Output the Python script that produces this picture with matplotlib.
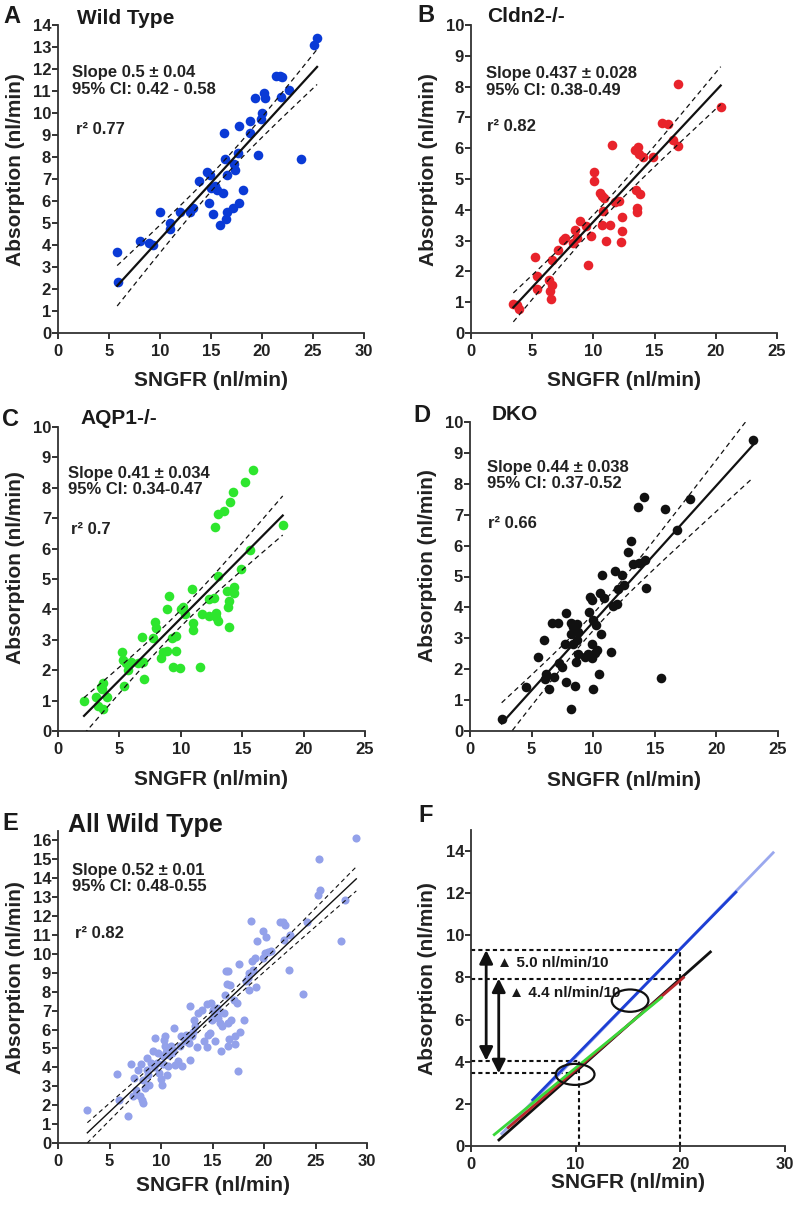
"""
Absorption vs SNGFR for wild type, Cldn2-/-, AQP1-/- and DKO tubules,
with regression lines and 95% confidence bands, plus a panel comparing fits.
"""

import numpy as np
import matplotlib
matplotlib.use("Agg")
import matplotlib.pyplot as plt
from matplotlib.patches import Ellipse

plt.rcParams['font.family'] = ['Liberation Sans', 'DejaVu Sans']
plt.rcParams['font.weight'] = 'bold'
plt.rcParams['axes.labelweight'] = 'bold'

W, H = 796, 1205  # figure size in pixels

# panel A - wild type
wt_x = [5.8, 5.9, 8.0, 8.9, 9.3, 10.0, 11.0, 11.0, 12.0, 12.9,
        13.2, 13.8, 14.6, 14.9, 14.8, 15.2, 15.0, 15.4, 15.6, 16.2,
        15.9, 16.5, 16.6, 16.3, 16.4, 16.6, 17.2, 17.7, 17.3, 17.4,
        17.6, 17.7, 18.1, 18.8, 18.8, 19.6, 19.9, 20.0, 19.3, 20.2,
        20.3, 21.4, 21.8, 22.0, 21.9, 22.6, 23.8, 25.1, 25.4]
wt_y = [3.7, 2.3, 4.2, 4.1, 4.0, 5.5, 5.0, 4.75, 5.5, 5.5,
        5.7, 6.9, 7.3, 7.2, 5.9, 5.4, 6.6, 6.7, 6.5, 6.35,
        4.9, 5.2, 5.5, 9.1, 7.9, 7.2, 5.7, 5.9, 7.7, 7.4,
        8.2, 9.4, 6.5, 9.65, 9.1, 8.1, 9.75, 10.0, 10.7, 10.9,
        10.7, 11.7, 11.7, 11.65, 10.75, 11.05, 7.9, 13.1, 13.4]

# panel B - Cldn2-/-
cldn_x = [3.46, 3.73, 3.92, 5.23, 5.42, 5.37, 6.38, 6.46, 6.59, 6.54,
          6.59, 7.14, 7.55, 7.68, 8.37, 8.5, 8.64, 8.91, 9.37, 9.54,
          9.81, 10.05, 10.05, 10.54, 10.74, 10.9, 10.82, 10.74, 11.04, 11.36,
          11.5, 11.77, 12.1, 12.32, 12.32, 12.23, 13.4, 13.68, 13.76, 14.09,
          13.49, 13.8, 13.54, 13.6, 14.9, 15.6, 16.1, 16.5, 16.9, 16.9,
          20.4]
cldn_y = [0.93, 0.91, 0.77, 2.48, 1.86, 1.42, 1.72, 1.37, 1.56, 1.12,
          2.37, 2.69, 3.02, 3.07, 2.92, 3.34, 3.08, 3.65, 3.49, 2.2,
          3.16, 5.22, 4.95, 4.54, 4.46, 4.39, 3.97, 3.51, 3.0, 3.52,
          6.12, 4.25, 4.28, 3.78, 3.32, 2.94, 5.95, 6.04, 5.8, 5.71,
          4.65, 4.52, 4.06, 3.94, 5.73, 6.82, 6.78, 6.28, 6.07, 8.07,
          7.34]

# panel C - AQP1-/-
aqp_x = [2.12, 3.09, 3.28, 3.47, 3.69, 3.56, 3.69, 4.02, 5.21, 5.32,
         5.54, 5.37, 5.67, 5.94, 6.54, 6.95, 7.0, 6.81, 7.71, 7.9,
         7.98, 8.36, 8.58, 8.85, 9.07, 8.9, 9.26, 9.61, 9.34, 9.61,
         9.94, 10.02, 10.15, 10.34, 10.89, 10.97, 11.0, 11.56, 11.7, 12.32,
         12.32, 12.7, 12.78, 13.0, 12.87, 12.9, 13.0, 13.06, 13.5, 13.74,
         13.87, 13.95, 13.95, 14.0, 14.28, 14.36, 14.36, 14.87, 15.23, 15.63,
         15.9, 18.3]
aqp_y = [1.0, 1.13, 0.82, 1.46, 1.59, 1.37, 0.71, 1.13, 2.59, 2.34,
         2.23, 1.48, 2.0, 2.28, 2.23, 2.26, 1.7, 3.1, 3.05, 3.6,
         3.4, 2.39, 2.61, 2.64, 4.44, 4.0, 3.05, 3.13, 2.12, 2.64,
         2.06, 4.0, 4.07, 3.85, 4.66, 3.54, 3.32, 2.12, 3.85, 3.78,
         4.33, 4.36, 6.7, 7.13, 3.76, 3.87, 3.63, 5.1, 7.24, 4.62,
         4.09, 3.41, 4.29, 7.54, 7.85, 4.73, 4.53, 5.32, 8.2, 5.95,
         8.59, 6.78]

# panel D - DKO
dko_x = [2.57, 4.55, 5.55, 6.0, 6.09, 6.14, 6.44, 6.63, 6.82, 7.17,
         7.25, 7.44, 7.71, 7.77, 7.79, 8.17, 8.17, 8.2, 8.33, 8.39,
         8.52, 8.58, 8.66, 8.71, 8.79, 8.79, 9.33, 9.55, 9.69, 9.74,
         9.88, 9.88, 9.96, 9.88, 10.01, 10.15, 10.2, 10.34, 10.5, 10.55,
         10.6, 10.74, 10.88, 11.42, 11.63, 11.77, 11.96, 12.04, 12.31, 12.5,
         12.85, 13.04, 13.2, 13.66, 13.74, 14.15, 14.2, 14.29, 15.5, 15.83,
         16.77, 17.86, 22.97]
dko_y = [0.38, 1.43, 2.4, 2.94, 1.67, 1.86, 1.35, 3.5, 1.76, 3.5,
         2.19, 2.08, 2.81, 3.83, 1.6, 0.7, 3.48, 3.14, 3.37, 2.81,
         1.45, 2.24, 3.46, 2.94, 2.49, 3.21, 2.4, 2.49, 3.86, 4.34,
         4.24, 2.83, 3.59, 2.35, 1.35, 2.51, 3.43, 2.62, 1.86, 4.45,
         3.14, 5.04, 4.32, 2.56, 4.04, 5.18, 4.11, 4.58, 5.04, 4.72,
         5.8, 6.15, 5.42, 7.25, 5.44, 7.58, 5.53, 4.64, 1.72, 7.18,
         6.5, 7.52, 9.41]

# panel E - all wild type
allwt_x = [2.85, 5.77, 5.93, 6.84, 7.09, 7.26, 7.39, 7.58, 7.81, 7.97,
           8.03, 8.13, 8.29, 8.29, 8.45, 8.62, 8.68, 8.78, 8.88, 9.0,
           9.2, 9.33, 9.43, 9.59, 9.75, 9.85, 9.98, 10.07, 10.17, 10.24,
           10.3, 10.4, 10.4, 10.5, 10.56, 10.66, 10.72, 10.82, 10.95, 11.05,
           11.21, 11.27, 11.37, 11.69, 11.86, 12.02, 11.99, 12.34, 12.44, 12.67,
           12.83, 12.83, 12.99, 13.15, 13.25, 13.31, 13.48, 13.64, 13.96, 14.19,
           14.45, 14.51, 14.61, 14.77, 14.84, 14.93, 15.0, 15.1, 15.26, 15.42,
           15.48, 15.58, 15.74, 15.81, 15.9, 16.07, 16.23, 16.33, 16.49, 16.39,
           16.55, 16.55, 16.72, 16.65, 16.78, 17.04, 17.14, 17.2, 17.36, 17.46,
           17.62, 17.69, 18.01, 18.27, 18.4, 18.5, 18.59, 18.72, 18.82, 18.98,
           19.14, 19.24, 19.31, 19.95, 19.89, 20.11, 20.18, 20.38, 20.67, 21.51,
           21.83, 21.96, 22.06, 22.38, 22.55, 23.78, 24.17, 25.24, 25.4, 25.3,
           27.47, 27.89, 28.96]
allwt_y = [1.76, 3.67, 2.29, 1.41, 4.2, 2.47, 3.44, 2.82, 3.88, 2.47,
           4.2, 2.26, 2.12, 3.35, 2.91, 4.5, 3.88, 3.62, 3.09, 4.23,
           4.85, 4.02, 5.56, 4.23, 4.76, 3.7, 3.4, 3.09, 4.2, 4.59,
           5.47, 5.11, 5.64, 4.8, 3.62, 4.06, 4.94, 4.67, 5.11, 4.76,
           4.94, 6.08, 4.14, 4.32, 5.15, 4.06, 5.68, 5.38, 5.73, 5.29,
           7.23, 4.41, 5.64, 5.86, 6.53, 6.17, 5.06, 6.88, 7.05, 5.38,
           7.35, 5.08, 5.73, 5.82, 7.41, 6.53, 7.05, 6.79, 5.38, 6.88,
           7.14, 6.61, 6.35, 4.85, 6.17, 6.88, 7.85, 9.08, 9.08, 8.43,
           6.35, 5.11, 8.38, 5.5, 6.53, 7.58, 5.64, 5.26, 7.41, 3.79,
           9.44, 5.86, 6.53, 8.55, 8.73, 8.11, 9.0, 11.76, 9.61, 9.17,
           9.79, 8.25, 10.67, 9.79, 11.2, 10.05, 10.88, 10.09, 10.18, 11.68,
           11.68, 10.76, 11.52, 9.14, 11.02, 7.9, 11.68, 13.14, 13.4, 15.03,
           10.67, 12.87, 16.14]

# regression statistics printed on each panel
stats_text = {
    'A': ("Slope 0.5 \u00b1 0.04\n95% CI: 0.42 - 0.58", "r\u00b2 0.77"),
    'B': ("Slope 0.437 \u00b1 0.028\n95% CI: 0.38-0.49", "r\u00b2 0.82"),
    'C': ("Slope 0.41 \u00b1 0.034\n95% CI: 0.34-0.47", "r\u00b2 0.7"),
    'D': ("Slope 0.44 \u00b1 0.038\n95% CI: 0.37-0.52", "r\u00b2 0.66"),
    'E': ("Slope 0.52 \u00b1 0.01\n95% CI: 0.48-0.55", "r\u00b2 0.82"),
}

# panel F reference levels (absorption at SNGFR 10 and 20)
f_sngfr = [10.3, 20.0]
f_wt_levels = [4.05, 9.3]
f_ko_levels = [3.45, 7.95]
f_labels = ["\u25b2 5.0 nl/min/10", "\u25b2 4.4 nl/min/10"]

fig = plt.figure(figsize=(W/100, H/100), dpi=100)


def add_panel(left, top, right, bottom):
    """add axes using pixel edges measured from the top left"""
    return fig.add_axes([left/W, 1-bottom/H, (right-left)/W, (bottom-top)/H])


def fit_line(x, y):
    """least squares line plus 95% confidence band of the mean"""
    x = np.asarray(x, dtype=float)
    y = np.asarray(y, dtype=float)
    n = len(x)
    slope, icpt = np.polyfit(x, y, 1)
    resid = y - (slope*x + icpt)
    s = np.sqrt(np.sum(resid**2)/(n-2))
    xs = np.linspace(x.min(), x.max(), 200)
    se = s*np.sqrt(1/n + (xs-x.mean())**2/np.sum((x-x.mean())**2))
    return xs, slope*xs + icpt, 2.0*se


def style(ax, xmax, xstep, ymax, ystep, ytop):
    ax.set_xlim(0, xmax)
    ax.set_ylim(0, ytop)
    ax.set_xticks(np.arange(0, xmax+0.01, xstep))
    ax.set_yticks(np.arange(0, ymax+0.01, ystep))
    for s in ['top', 'right']:
        ax.spines[s].set_visible(False)
    for s in ['left', 'bottom']:
        ax.spines[s].set_linewidth(1.3)
        ax.spines[s].set_color('#333333')
    ax.tick_params(direction='out', length=4, width=1.3, labelsize=12,
                   colors='#222222')
    ax.tick_params(axis='y', pad=1)
    ax.tick_params(axis='x', pad=4)
    ax.set_xlabel('SNGFR (nl/min)', fontsize=15, color='#222222')
    ax.set_ylabel('Absorption (nl/min)', fontsize=15, color='#222222')


def scatter_panel(ax, x, y, color, size, key, txt_pos, lw_fit=1.6, lw_ci=0.9):
    ax.scatter(x, y, s=size, color=color, zorder=3, clip_on=False,
               linewidths=0)
    xs, yf, ci = fit_line(x, y)
    ax.plot(xs, yf, color='#111111', lw=lw_fit, zorder=4)
    ax.plot(xs, yf+ci, color='#111111', lw=lw_ci, ls=(0, (4, 3)), zorder=4)
    ax.plot(xs, yf-ci, color='#111111', lw=lw_ci, ls=(0, (4, 3)), zorder=4)
    (sx, sy), (rx, ry) = txt_pos
    top, r2 = stats_text[key]
    ax.text(sx, sy, top, transform=ax.transAxes, fontsize=12, va='center',
            ha='left', linespacing=1.1, color='#222222')
    ax.text(rx, ry, r2, transform=ax.transAxes, fontsize=12, va='center',
            ha='left', color='#222222')


def label(x, y, txt, size):
    fig.text(x/W, 1-y/H, txt, fontsize=size, ha='left', va='center',
             color='#1a1a1a')


# A
axA = add_panel(58, 25, 364, 333)
style(axA, 30, 5, 14, 1, 14)
scatter_panel(axA, wt_x, wt_y, '#0a3ad6', 48, 'A',
              ((0.046, 0.818), (0.059, 0.66)))
axA.xaxis.set_label_coords(0.5, -0.123)
axA.yaxis.set_label_coords(-0.108, 0.532)

# B
axB = add_panel(471, 25, 777, 333)
style(axB, 25, 5, 10, 1, 10)
scatter_panel(axB, cldn_x, cldn_y, '#e8232b', 48, 'B',
              ((0.049, 0.815), (0.052, 0.669)))
axB.xaxis.set_label_coords(0.5, -0.123)
axB.yaxis.set_label_coords(-0.108, 0.532)

# C
axC = add_panel(58, 427, 365, 731)
style(axC, 25, 5, 10, 1, 10)
scatter_panel(axC, aqp_x, aqp_y, '#2ee62e', 48, 'C',
              ((0.033, 0.822), (0.042, 0.664)))
axC.xaxis.set_label_coords(0.5, -0.128)
axC.yaxis.set_label_coords(-0.107, 0.536)

# D
axD = add_panel(470, 422, 778, 731)
style(axD, 25, 5, 10, 1, 10)
scatter_panel(axD, dko_x, dko_y, '#111111', 48, 'D',
              ((0.055, 0.827), (0.058, 0.670)))
axD.xaxis.set_label_coords(0.5, -0.128)
axD.yaxis.set_label_coords(-0.107, 0.534)

# E
axE = add_panel(58, 831, 367, 1143)
style(axE, 30, 5, 16, 1, 16.5)
scatter_panel(axE, allwt_x, allwt_y, '#93a1ea', 34, 'E',
              ((0.045, 0.848), (0.055, 0.67)), lw_fit=1.0, lw_ci=0.8)
axE.xaxis.set_label_coords(0.5, -0.106)
axE.yaxis.set_label_coords(-0.107, 0.529)

# F - overlay of the fitted lines
axF = add_panel(471, 830, 785, 1146)
style(axF, 30, 10, 14, 2, 15)
groups = [(allwt_x, allwt_y, '#9aa8ee'), (wt_x, wt_y, '#1d3fd4'),
          (dko_x, dko_y, '#111111'), (cldn_x, cldn_y, '#b8282c'),
          (aqp_x, aqp_y, '#3ad83a')]
for gx, gy, gc in groups:
    xs, yf, ci = fit_line(gx, gy)
    axF.plot(xs, yf, color=gc, lw=2.0, zorder=3, solid_capstyle='butt')

dot = dict(color='#111111', lw=1.5, ls=(0, (2, 1.5)), zorder=2)
for xv, lo, hi in zip(f_sngfr, f_ko_levels, f_wt_levels):
    axF.plot([0, xv], [lo, lo], **dot)
    axF.plot([0, xv], [hi, hi], **dot)
    axF.plot([xv, xv], [0, hi], **dot)

arrow = dict(arrowstyle='<|-|>', color='#111111', lw=2.0, mutation_scale=20,
             shrinkA=0, shrinkB=0)
axF.annotate('', xy=(1.45, f_wt_levels[0]), xytext=(1.45, f_wt_levels[1]),
             arrowprops=arrow)
axF.annotate('', xy=(2.65, f_ko_levels[0]), xytext=(2.65, f_ko_levels[1]),
             arrowprops=arrow)
axF.text(2.45, 8.68, f_labels[0], fontsize=11, va='center', ha='left',
         color='#1a1a1a')
axF.text(3.66, 7.25, f_labels[1], fontsize=11, va='center', ha='left',
         color='#1a1a1a')
axF.add_patch(Ellipse((15.2, 6.9), 3.5, 1.06, fill=False, lw=1.6,
                      edgecolor='#111111', zorder=5))
axF.add_patch(Ellipse((9.95, 3.4), 3.7, 1.0, fill=False, lw=1.6,
                      edgecolor='#111111', zorder=5))
axF.xaxis.set_label_coords(0.5, -0.085)
axF.yaxis.set_label_coords(-0.108, 0.53)

# panel letters and titles
for x, y, t in [(3, 16.5, 'A'), (417, 15, 'B'), (2, 420, 'C'),
                (413, 415, 'D'), (2, 824, 'E'), (418, 815, 'F')]:
    label(x, y, t, 17)
label(77, 18, 'Wild Type', 15)
label(487, 17, 'Cldn2-/-', 15)
label(80, 419, 'AQP1-/-', 15)
label(492, 414, 'DKO', 15)
label(68, 825, 'All Wild Type', 18)

fig.savefig('out.png', dpi=100)
